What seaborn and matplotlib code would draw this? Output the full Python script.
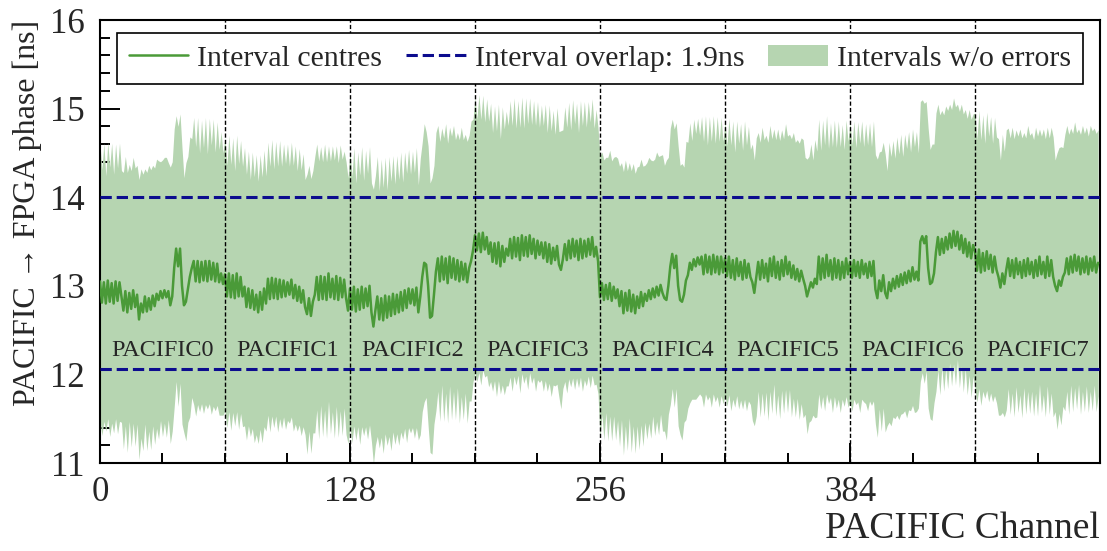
import numpy as np
import pandas as pd
import matplotlib.pyplot as plt
import seaborn as sns
from matplotlib.lines import Line2D
from matplotlib.patches import Patch
from matplotlib.ticker import MultipleLocator

sns.set_theme(style='ticks')
plt.rcParams['font.family'] = ['Liberation Serif', 'DejaVu Serif']

chips = ['PACIFIC0', 'PACIFIC1', 'PACIFIC2', 'PACIFIC3',
         'PACIFIC4', 'PACIFIC5', 'PACIFIC6', 'PACIFIC7']
n_per_chip = 64

# interval centres per chip (ns)
centre_0 = [13.05, 12.81, 13.04, 12.80, 13.06, 12.82, 13.03, 12.80, 13.05, 12.83, 13.04, 12.88,
            12.72, 12.94, 12.70, 12.92, 12.74, 12.95, 12.76, 12.90, 12.62, 12.80,
            12.70, 12.88, 12.71, 12.86, 12.73, 12.89, 12.77, 12.91,
            12.84, 12.94, 12.86, 12.95, 12.87, 12.94, 12.78, 12.88,
            13.20, 13.42, 13.22, 13.42, 13.00, 12.78, 12.82, 12.96, 13.10, 13.20,
            13.28, 13.05, 13.28, 13.04, 13.27, 13.06, 13.28, 13.05,
            13.28, 13.07, 13.26, 13.05, 13.25, 13.04, 13.14, 13.02]
centre_1 = [13.13, 12.88, 13.14, 12.87, 13.12, 12.86, 13.14, 12.88, 13.10, 12.88,
            12.99, 12.76, 12.97, 12.75, 12.95, 12.73, 12.90, 12.70, 12.93, 12.73, 12.97, 12.80,
            13.08, 12.85, 13.09, 12.86, 13.08, 12.85, 13.07, 12.87, 13.06, 12.88, 13.04, 12.90,
            13.07, 12.86, 13.01, 12.83, 12.99, 12.81, 12.95,
            12.76, 12.68, 12.86, 12.66, 12.82, 12.90,
            13.10, 12.84, 13.11, 12.85, 13.10, 12.84, 13.14, 12.87, 13.08,
            12.85, 13.11, 12.84, 13.09, 12.87, 13.07, 12.86, 12.72]
centre_2 = [12.97, 12.73, 12.99, 12.71, 12.96, 12.73, 12.99, 12.75, 12.97, 12.77, 13.00,
            12.70, 12.54, 12.72,
            12.88, 12.62, 12.86, 12.61, 12.89, 12.64, 12.88, 12.66, 12.91,
            12.68, 12.90, 12.70, 12.93, 12.72, 12.95, 12.75, 12.97,
            12.80, 12.96, 12.78, 12.98, 12.70, 12.88, 13.10, 13.26, 13.24,
            13.00, 12.64, 12.66, 12.90,
            13.16, 13.31, 13.05, 13.33, 13.07, 13.31, 13.03, 13.33, 13.09, 13.31,
            13.07, 13.29, 13.05, 13.27, 13.07, 13.25, 13.04, 13.20, 13.28, 13.40]
centre_3 = [13.57, 13.40, 13.59, 13.38, 13.60, 13.41, 13.55, 13.36,
            13.49, 13.27, 13.48, 13.25, 13.49, 13.22, 13.45, 13.27, 13.42, 13.34,
            13.53, 13.31, 13.55, 13.33, 13.54, 13.29, 13.57, 13.34, 13.55,
            13.33, 13.57, 13.36, 13.53, 13.31, 13.51, 13.35, 13.49,
            13.31, 13.49, 13.27, 13.47, 13.25, 13.43, 13.29, 13.45, 13.24, 13.18, 13.30,
            13.47, 13.29, 13.51, 13.31, 13.53, 13.33, 13.51, 13.29, 13.53,
            13.31, 13.51, 13.33, 13.53, 13.35, 13.55, 13.33, 13.44, 13.28]
centre_4 = [12.87, 13.03, 12.84, 13.01, 12.85, 13.03, 12.83, 12.99, 12.86, 12.96,
            12.77, 12.94, 12.69, 12.92, 12.72, 12.95, 12.71, 12.90, 12.69, 12.88,
            12.75, 12.93, 12.77, 12.91,
            12.83, 12.95, 12.85, 12.97, 12.87, 12.99, 12.89, 13.01, 12.92,
            12.86, 12.84, 13.00, 13.22, 13.36, 13.20, 13.34,
            13.00, 12.84, 12.82, 12.90, 13.06,
            13.12, 13.26, 13.18, 13.30, 13.22, 13.32, 13.24,
            13.33, 13.13, 13.35, 13.15, 13.33, 13.13, 13.35, 13.15, 13.33, 13.13, 13.33, 13.15]
centre_5 = [13.31, 13.11, 13.33, 13.09, 13.29, 13.07, 13.31, 13.11, 13.27, 13.07, 13.29, 13.09,
            13.25, 13.10, 13.04, 12.92, 13.10,
            13.27, 13.07, 13.29, 13.09, 13.25, 13.05, 13.31, 13.11, 13.33, 13.09, 13.27, 13.07,
            13.29, 13.11, 13.33, 13.13, 13.27, 13.09, 13.23, 13.07, 13.19, 13.05, 13.17, 13.08,
            13.00, 12.88, 12.96, 13.04, 12.98, 13.08, 13.02,
            13.33, 13.07, 13.31, 13.09, 13.35, 13.11, 13.29, 13.07,
            13.31, 13.09, 13.29, 13.07, 13.27, 13.09, 13.31, 13.13]
centre_6 = [13.27, 13.09, 13.29, 13.11, 13.27, 13.09, 13.29, 13.13, 13.25, 13.09, 13.27, 13.11, 13.28,
            12.96, 12.86, 13.06, 12.94, 13.12, 12.92, 12.86, 13.04, 12.94, 13.08,
            12.97, 13.11, 12.99, 13.13, 13.01, 13.15, 13.03, 13.17, 13.05, 13.21, 13.07, 13.16, 13.06,
            13.50, 13.56, 13.48, 13.56, 13.20, 13.02, 13.04, 13.14,
            13.38, 13.55, 13.35, 13.53, 13.37, 13.55, 13.41, 13.59, 13.43, 13.62,
            13.45, 13.61, 13.41, 13.57, 13.37, 13.53, 13.33, 13.49, 13.31, 13.46]
centre_7 = [13.39, 13.17, 13.41, 13.15, 13.37, 13.17, 13.39, 13.19, 13.35, 13.15, 13.33, 13.18,
            13.10, 12.98, 13.14, 13.02, 13.18,
            13.31, 13.11, 13.29, 13.09, 13.31, 13.13, 13.27, 13.09, 13.29, 13.11, 13.31, 13.13,
            13.27, 13.09, 13.29, 13.11, 13.33, 13.13, 13.27, 13.09, 13.33, 13.11, 13.29, 13.10,
            13.00, 12.94, 13.06, 13.00, 13.10,
            13.15, 13.31, 13.13, 13.33, 13.15, 13.35, 13.17, 13.33, 13.13,
            13.31, 13.15, 13.33, 13.13, 13.31, 13.17, 13.33, 13.15, 13.26]

# half width of the error-free interval per channel (ns)
halfw_0 = [1.56, 1.50, 1.57, 1.44, 1.56, 1.52, 1.58, 1.46, 1.55, 1.50, 1.57, 1.42, 1.56, 1.52, 1.58, 1.45,
           1.56, 1.50, 1.57, 1.46, 1.58, 1.52, 1.56, 1.44, 1.57, 1.50, 1.58, 1.47, 1.56, 1.52, 1.57, 1.46,
           1.56, 1.50, 1.58, 1.45, 1.56, 1.52, 1.57, 1.50, 1.58, 1.52, 1.56, 1.44, 1.57, 1.50, 1.58, 1.46,
           1.62, 1.52, 1.62, 1.46, 1.60, 1.50, 1.62, 1.44, 1.61, 1.52, 1.62, 1.46, 1.60, 1.50, 1.60, 1.48]
halfw_1 = [1.54, 1.48, 1.56, 1.50, 1.55, 1.44, 1.56, 1.50, 1.54, 1.47, 1.57, 1.50, 1.55, 1.45, 1.56, 1.50,
           1.58, 1.48, 1.55, 1.50, 1.56, 1.44, 1.54, 1.50, 1.56, 1.46, 1.55, 1.50, 1.57, 1.48, 1.54, 1.50,
           1.56, 1.45, 1.55, 1.50, 1.57, 1.47, 1.56, 1.50, 1.54, 1.44, 1.58, 1.50, 1.55, 1.48, 1.56, 1.50,
           1.57, 1.46, 1.55, 1.50, 1.56, 1.44, 1.54, 1.50, 1.57, 1.47, 1.55, 1.50, 1.56, 1.45, 1.54, 1.50]
halfw_2 = [1.56, 1.50, 1.57, 1.45, 1.55, 1.52, 1.58, 1.44, 1.56, 1.50, 1.57, 1.46, 1.55, 1.52, 1.58, 1.45,
           1.57, 1.50, 1.56, 1.44, 1.58, 1.52, 1.56, 1.47, 1.57, 1.50, 1.58, 1.45, 1.56, 1.52, 1.57, 1.46,
           1.56, 1.50, 1.58, 1.44, 1.56, 1.52, 1.57, 1.50, 1.58, 1.52, 1.56, 1.46, 1.57, 1.50, 1.58, 1.45,
           1.60, 1.52, 1.58, 1.46, 1.60, 1.50, 1.58, 1.44, 1.60, 1.52, 1.58, 1.46, 1.59, 1.50, 1.58, 1.48]
halfw_3 = [1.56, 1.48, 1.57, 1.50, 1.55, 1.44, 1.56, 1.50, 1.57, 1.46, 1.55, 1.50, 1.56, 1.44, 1.57, 1.50,
           1.55, 1.47, 1.56, 1.50, 1.57, 1.45, 1.55, 1.50, 1.56, 1.44, 1.57, 1.50, 1.55, 1.46, 1.56, 1.50,
           1.57, 1.44, 1.55, 1.50, 1.56, 1.46, 1.57, 1.50, 1.55, 1.42, 1.56, 1.50, 1.57, 1.46, 1.55, 1.50,
           1.56, 1.45, 1.57, 1.50, 1.55, 1.44, 1.56, 1.50, 1.57, 1.46, 1.55, 1.50, 1.56, 1.45, 1.55, 1.50]
halfw_4 = [1.60, 1.48, 1.58, 1.44, 1.60, 1.50, 1.58, 1.46, 1.60, 1.48, 1.58, 1.45, 1.60, 1.50, 1.58, 1.44,
           1.59, 1.48, 1.58, 1.46, 1.60, 1.50, 1.58, 1.45, 1.56, 1.50, 1.57, 1.44, 1.56, 1.52, 1.57, 1.46,
           1.56, 1.50, 1.58, 1.45, 1.56, 1.52, 1.57, 1.50, 1.58, 1.52, 1.56, 1.44, 1.57, 1.50, 1.58, 1.46,
           1.58, 1.50, 1.57, 1.46, 1.58, 1.50, 1.57, 1.44, 1.58, 1.50, 1.57, 1.46, 1.58, 1.50, 1.57, 1.48]
halfw_5 = [1.55, 1.47, 1.56, 1.50, 1.57, 1.44, 1.55, 1.50, 1.56, 1.46, 1.57, 1.50, 1.55, 1.44, 1.56, 1.50,
           1.57, 1.46, 1.55, 1.50, 1.56, 1.45, 1.57, 1.50, 1.55, 1.44, 1.56, 1.50, 1.57, 1.47, 1.55, 1.50,
           1.56, 1.44, 1.57, 1.50, 1.55, 1.46, 1.56, 1.50, 1.57, 1.45, 1.55, 1.50, 1.56, 1.44, 1.57, 1.50,
           1.55, 1.46, 1.56, 1.50, 1.57, 1.44, 1.55, 1.50, 1.56, 1.47, 1.57, 1.50, 1.55, 1.45, 1.56, 1.50]
halfw_6 = [1.58, 1.50, 1.57, 1.45, 1.58, 1.52, 1.57, 1.44, 1.58, 1.50, 1.57, 1.46, 1.58, 1.52, 1.57, 1.45,
           1.58, 1.50, 1.57, 1.44, 1.58, 1.52, 1.56, 1.47, 1.57, 1.50, 1.58, 1.45, 1.56, 1.52, 1.57, 1.46,
           1.56, 1.50, 1.58, 1.44, 1.58, 1.54, 1.58, 1.52, 1.58, 1.52, 1.56, 1.46, 1.57, 1.50, 1.58, 1.45,
           1.56, 1.48, 1.57, 1.46, 1.56, 1.50, 1.57, 1.44, 1.56, 1.48, 1.57, 1.46, 1.56, 1.50, 1.57, 1.48]
halfw_7 = [1.56, 1.48, 1.57, 1.50, 1.56, 1.44, 1.57, 1.50, 1.56, 1.46, 1.57, 1.50, 1.56, 1.44, 1.57, 1.50,
           1.58, 1.47, 1.56, 1.50, 1.57, 1.45, 1.56, 1.50, 1.58, 1.44, 1.56, 1.50, 1.57, 1.46, 1.56, 1.50,
           1.58, 1.44, 1.56, 1.50, 1.57, 1.46, 1.56, 1.50, 1.58, 1.42, 1.56, 1.50, 1.57, 1.46, 1.56, 1.50,
           1.58, 1.45, 1.57, 1.50, 1.56, 1.44, 1.58, 1.50, 1.57, 1.46, 1.56, 1.50, 1.58, 1.45, 1.57, 1.50]

overlap_low = 12.06
overlap_high = 14.0
overlap_label = 'Interval overlap: 1.9ns'

centre = np.concatenate([centre_0, centre_1, centre_2, centre_3,
                         centre_4, centre_5, centre_6, centre_7])
halfw = np.concatenate([halfw_0, halfw_1, halfw_2, halfw_3,
                        halfw_4, halfw_5, halfw_6, halfw_7])
df = pd.DataFrame({'channel': np.arange(len(centre)), 'centre': centre})
df['lower'] = df['centre'] - halfw
df['upper'] = df['centre'] + halfw

green = '#4a9a38'
band = '#b6d5b1'
navy = '#0c0c8e'

fig = plt.figure(figsize=(11.07, 5.51), dpi=100)
ax = fig.add_axes([0.0903, 0.1597, 0.9034, 0.8040])

ax.fill_between(df['channel'], df['lower'], df['upper'], color=band, lw=0, zorder=1)
sns.lineplot(data=df, x='channel', y='centre', color=green, lw=1.8, ax=ax, zorder=3)
ax.axhline(overlap_high, color=navy, lw=2.2, ls='--', zorder=4)
ax.axhline(overlap_low, color=navy, lw=2.2, ls='--', zorder=4)

for i, name in enumerate(chips):
    if i > 0:
        ax.axvline(i * n_per_chip, color='black', lw=1, ls=(0, (3, 1.6)), zorder=5)
    ax.text(i * n_per_chip + n_per_chip / 2, 12.27, name, ha='center', va='center',
            fontsize=17.5, zorder=6)

ax.set_xlim(0, len(centre))
ax.set_ylim(11, 16)
ax.set_xticks([0, 128, 256, 384])
ax.xaxis.set_minor_locator(MultipleLocator(32))
ax.yaxis.set_major_locator(MultipleLocator(1))
ax.yaxis.set_minor_locator(MultipleLocator(0.2))
ax.tick_params(which='both', direction='in', top=False, right=False, width=1.4, color='black')
ax.tick_params(which='major', length=14.4, labelsize=25)
ax.tick_params(which='minor', length=7.2)
ax.tick_params(axis='x', pad=9)
ax.tick_params(axis='y', pad=11)
for s in ax.spines.values():
    s.set_linewidth(1.5)
    s.set_color('black')

ax.set_xlabel('PACIFIC Channel', loc='right', fontsize=27, labelpad=2)
ax.set_ylabel('PACIFIC → FPGA phase [ns]', loc='top', fontsize=23, labelpad=6)

handles = [Line2D([], [], color=green, lw=1.8),
           Line2D([], [], color=navy, lw=2.2, ls='--'),
           Patch(facecolor=band, edgecolor='none')]
labels = ['Interval centres', overlap_label, 'Intervals w/o errors']
leg = ax.legend(handles, labels, loc='upper center', bbox_to_anchor=(0.5, 0.971), ncol=3,
                fontsize=21.5, frameon=True, fancybox=False, framealpha=1, borderaxespad=0,
                handlelength=2.0, handletextpad=0.3, columnspacing=0.8, borderpad=0.4)
leg.get_frame().set_edgecolor('black')
leg.get_frame().set_linewidth(1.2)
leg.set_zorder(10)

fig.savefig('out.png', dpi=100)
